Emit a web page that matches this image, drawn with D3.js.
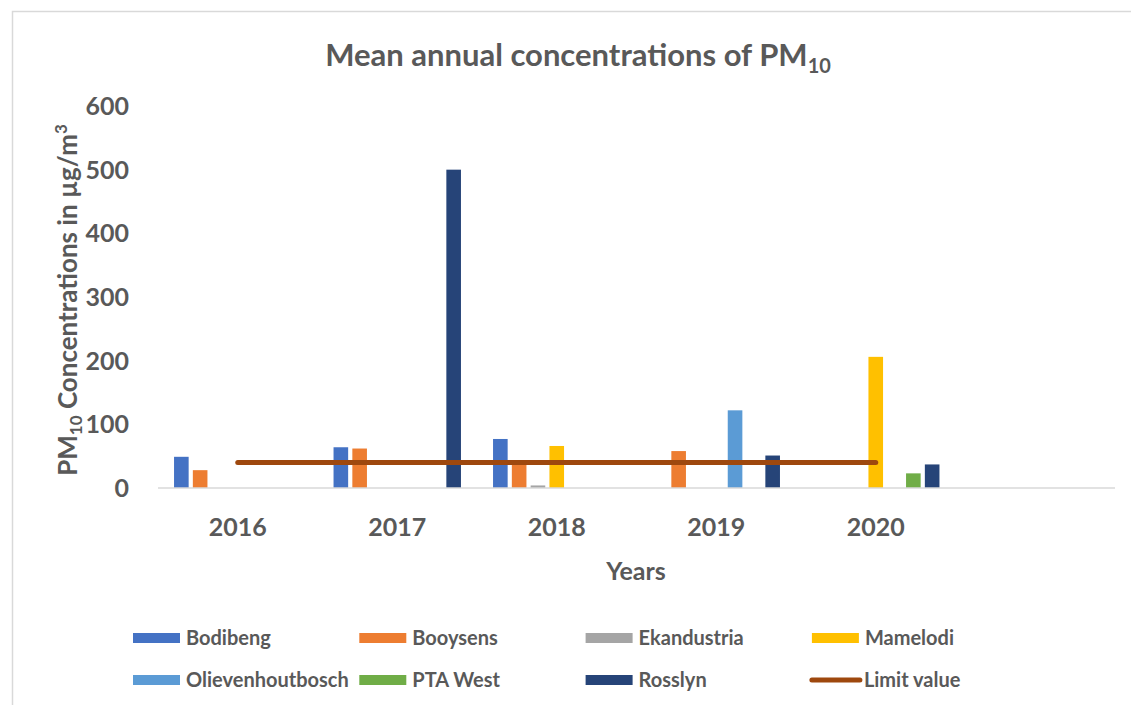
<!DOCTYPE html>
<html>
<head>
<meta charset="utf-8">
<script src="https://cdn.jsdelivr.net/npm/d3@7"></script>
<style>
  body { margin: 0; background: #fff; }
  text { font-family: Lato, "Open Sans", sans-serif; font-weight: bold; fill: #595959; }
</style>
</head>
<body>
<svg id="chart" width="1131" height="705"></svg>
<script>
// categories and series (null = no bar)
const years = ['2016', '2017', '2018', '2019', '2020', '']
const stations = ['Bodibeng', 'Booysens', 'Ekandustria', 'Mamelodi', 'Olievenhoutbosch', 'PTA West', 'Rosslyn']
const bodibeng = [49, 64, 77, null, null]
const booysens = [28, 62, 42, 58, null]
const ekandustria = [null, null, 4, null, null]
const mamelodi = [null, null, 66, null, 206]
const olievenhoutbosch = [null, null, null, 122, null]
const ptaWest = [null, null, null, null, 23]
const rosslyn = [null, 500, null, 51, 37]
const limitValue = [40, 40, 40, 40, 40]
const yTicks = [0, 100, 200, 300, 400, 500, 600]
const colors = ['#4472C4', '#ED7D31', '#A5A5A5', '#FFC000', '#5B9BD5', '#70AD47', '#264478']
const limitColor = '#9E480E'

const seriesValues = [bodibeng, booysens, ekandustria, mamelodi, olievenhoutbosch, ptaWest, rosslyn]

const svg = d3.select('#chart')

// chart frame
svg.append('rect').attr('x', 12.5).attr('y', 11.5).attr('width', 1140).attr('height', 720)
  .attr('fill', 'none').attr('stroke', '#D9D9D9').attr('stroke-width', 1.5)

const x = d3.scaleBand().domain(years).range([158, 1115])
const xInner = d3.scaleBand().domain(stations).range([0, x.bandwidth()])
  .paddingInner(0.223).paddingOuter(0.853)
const y = d3.scaleLinear().domain([0, 600]).range([488, 106])

// bars
let bars = []
seriesValues.forEach(function (vals, i) {
  vals.forEach(function (v, j) {
    if (v !== null) bars.push({ station: stations[i], year: years[j], value: v, color: colors[i] })
  })
})
svg.append('g').selectAll('rect').data(bars).join('rect')
  .attr('x', d => x(d.year) + xInner(d.station))
  .attr('y', d => y(d.value))
  .attr('width', xInner.bandwidth())
  .attr('height', d => y(0) - y(d.value))
  .attr('fill', d => d.color)

// x axis line
svg.append('line').attr('x1', 158).attr('x2', 1115).attr('y1', y(0)).attr('y2', y(0))
  .attr('stroke', '#D9D9D9').attr('stroke-width', 1.5)

// limit value line
const limitData = limitValue.map((v, i) => ({ year: years[i], value: v }))
const lineFn = d3.line()
  .x(d => x(d.year) + x.bandwidth() / 2)
  .y(d => y(d.value))
svg.append('path').attr('d', lineFn(limitData))
  .attr('stroke', limitColor).attr('stroke-width', 5).attr('fill', 'none')
  .attr('stroke-linecap', 'round')

// y tick labels
svg.append('g').selectAll('text').data(yTicks).join('text')
  .attr('x', 129).attr('y', d => y(d)).attr('dy', '0.36em')
  .attr('text-anchor', 'end').style('font-size', '25px')
  .text(d => d)

// x tick labels
svg.append('g').selectAll('text').data(years.slice(0, 5)).join('text')
  .attr('x', d => x(d) + x.bandwidth() / 2).attr('y', 527).attr('dy', '0.36em')
  .attr('text-anchor', 'middle').style('font-size', '25px')
  .text(d => d)

// axis titles
svg.append('text').attr('x', 636).attr('y', 571).attr('dy', '0.36em')
  .attr('text-anchor', 'middle').style('font-size', '25px').text('Years')

const yTitle = svg.append('text')
  .attr('transform', 'translate(68,300) rotate(-90)')
  .attr('text-anchor', 'middle').attr('dy', '0.36em').style('font-size', '26px')
yTitle.append('tspan').text('PM')
yTitle.append('tspan').attr('dy', 5).style('font-size', '17px').text('10')
yTitle.append('tspan').attr('dy', -5).text(' Concentrations in µg/m')
yTitle.append('tspan').attr('dy', -10).style('font-size', '17px').text('3')

// title
const title = svg.append('text').attr('x', 578).attr('y', 55).attr('dy', '0.36em')
  .attr('text-anchor', 'middle').style('font-size', '31px')
title.append('tspan').text('Mean annual concentrations of PM')
title.append('tspan').attr('dy', 7).style('font-size', '20px').text('10')

// legend
const legendItems = stations.concat(['Limit value'])
const legendColors = colors.concat([limitColor])
const legend = svg.append('g').selectAll('g').data(legendItems).join('g')
  .attr('transform', (d, i) => 'translate(' + (133 + (i % 4) * 226.3) + ',' + (638 + Math.floor(i / 4) * 42) + ')')
legend.each(function (d, i) {
  const g = d3.select(this)
  if (d === 'Limit value') {
    g.append('line').attr('x1', 0).attr('x2', 48).attr('y1', 0).attr('y2', 0)
      .attr('stroke', legendColors[i]).attr('stroke-width', 5).attr('stroke-linecap', 'round')
  } else {
    g.append('rect').attr('x', 0).attr('y', -5).attr('width', 47).attr('height', 10)
      .attr('fill', legendColors[i])
  }
  g.append('text').attr('x', d === 'Limit value' ? 52 : 53).attr('dy', '0.36em')
    .style('font-size', '20px').text(d)
})
</script>
</body>
</html>
